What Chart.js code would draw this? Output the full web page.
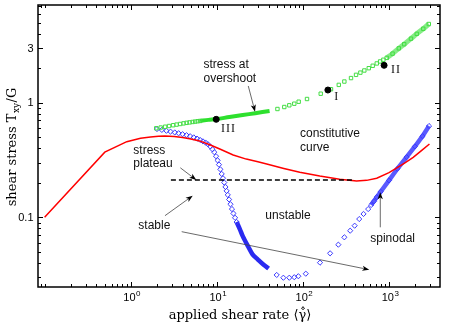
<!DOCTYPE html>
<html><head><meta charset="utf-8">
<script src="https://cdn.jsdelivr.net/npm/chart.js@4.4.1/dist/chart.umd.min.js"></script>
<style>html,body{margin:0;padding:0;background:#fff}#wrap{width:452px;height:327px;position:relative}</style>
</head><body><div id="wrap"><canvas id="c"></canvas></div>
<script>
// ---- axis ranges and ticks ----
const xMin = 0.0838, xMax = 3911;
const yMin = 0.02465, yMax = 7.12;
const xMajorTicks = [1, 10, 100, 1000];
const xTickExponents = ['0', '1', '2', '3'];
const yMajorTicks = [0.1, 1, 3];
const yTickLabels = ['0.1', '1', '3'];

// ---- constitutive curve (red) ----
const redX = [0.1, 0.5, 0.9, 1.3, 1.7, 2.1, 2.5, 3.2, 4, 5, 6.3, 8.3, 11, 15.5, 22, 30, 38, 60, 92, 157, 267, 420, 550, 720, 1000, 1220, 1500, 1910, 2400, 2950];
const redY = [0.1, 0.37, 0.457, 0.49, 0.503, 0.509, 0.511, 0.507, 0.497, 0.483, 0.464, 0.43, 0.392, 0.35, 0.322, 0.305, 0.292, 0.267, 0.247, 0.229, 0.215, 0.207, 0.21, 0.219, 0.245, 0.268, 0.296, 0.334, 0.384, 0.436];

// ---- stress at overshoot (green squares) ----
const greenSqX = [1.98, 2.23, 2.51, 2.79, 3.11, 3.41, 3.75, 4.11, 4.46, 4.83, 5.23, 5.6, 6.0, 6.4,
  50.6, 60.8, 69.5, 79.4, 89.3, 111.6, 161, 212, 261, 303, 362, 414, 465, 517, 582, 647, 721, 788, 860, 941,
  1100, 1300, 1500, 1800, 2100, 2500, 2900];
const greenSqY = [0.598, 0.607, 0.617, 0.626, 0.636, 0.644, 0.652, 0.66, 0.667, 0.673, 0.679, 0.684, 0.689, 0.693,
  0.881, 0.917, 0.949, 0.98, 1.02, 1.077, 1.198, 1.31, 1.43, 1.53, 1.64, 1.75, 1.83, 1.91, 2.0, 2.1, 2.2, 2.29, 2.37, 2.46,
  2.68, 2.98, 3.24, 3.62, 3.99, 4.42, 4.86];
const greenDenseLoX = [6.4, 8, 10, 14, 20, 28, 41];
const greenDenseLoY = [0.693, 0.708, 0.72, 0.75, 0.78, 0.81, 0.847];
const greenDenseHiX = [941, 1100, 1300, 1500, 1800, 2100, 2500, 2900];
const greenDenseHiY = [2.46, 2.68, 2.98, 3.24, 3.62, 3.99, 4.42, 4.86];

// ---- spinodal (blue diamonds) ----
const blueDiaX = [2.02, 2.3, 2.6, 2.9, 3.25, 3.6, 4.0, 4.45, 4.9, 5.4, 5.9, 6.4, 6.9, 7.4, 7.9, 8.4, 8.9, 9.35, 9.8, 10.2, 10.6, 11.0, 11.4, 11.8, 12.2, 12.6, 13.0, 13.4, 13.9, 14.4, 15.0, 15.6, 16.3, 17.0,
  49.6, 59.3, 69.5, 79.4, 88.5, 108, 158, 207, 258, 303, 354, 399, 451, 506, 573, 620, 670, 720,
  800, 1000, 1250, 1600, 2000, 2450, 2915];
const blueDiaY = [0.589, 0.579, 0.569, 0.559, 0.55, 0.541, 0.531, 0.521, 0.51, 0.498, 0.486, 0.473, 0.46, 0.449, 0.434, 0.415, 0.392, 0.37, 0.341, 0.314, 0.288, 0.262, 0.239, 0.219, 0.201, 0.184, 0.17, 0.157, 0.143, 0.13, 0.118, 0.108, 0.099, 0.091,
  0.0314, 0.0297, 0.0297, 0.03, 0.0306, 0.0322, 0.0402, 0.0485, 0.0577, 0.0669, 0.0764, 0.0845, 0.0966, 0.107, 0.118, 0.128, 0.138, 0.15,
  0.167, 0.21, 0.265, 0.335, 0.415, 0.51, 0.626];
const blueDenseLoX = [17, 18.5, 20, 23, 26, 30, 35, 40];
const blueDenseLoY = [0.091, 0.079, 0.0685, 0.056, 0.0475, 0.0428, 0.0385, 0.0357];
const blueDenseHiX = [620, 800, 1000, 1250, 1600, 2000, 2450, 2915];
const blueDenseHiY = [0.128, 0.167, 0.21, 0.265, 0.335, 0.415, 0.51, 0.626];

// ---- stress plateau (dashed) ----
const plateauX = [2.93, 392];
const plateauY = [0.212, 0.212];

// ---- marked states ----
const markX = [195, 877, 9.84];
const markY = [1.29, 2.12, 0.716];
const markLabels = ['I', 'II', 'III'];
const markLabelX = [231.6, 1055, 11.19];
const markLabelY = [1.056, 1.827, 0.558];

// ---- annotations (data coordinates) ----
const notes = [
  {t: 'stress at', x: 7.0, y: 2.0},
  {t: 'overshoot', x: 7.0, y: 1.52},
  {t: 'constitutive', x: 92.5, y: 0.497},
  {t: 'curve', x: 92.5, y: 0.381},
  {t: 'stress', x: 1.072, y: 0.3567},
  {t: 'plateau', x: 1.072, y: 0.2764},
  {t: 'stable', x: 1.225, y: 0.079},
  {t: 'unstable', x: 36.6, y: 0.0966},
  {t: 'spinodal', x: 606, y: 0.0609}
];
const arrows = [
  {x1: 23.2, y1: 1.399, x2: 27.8, y2: 0.835},
  {x1: 3.77, y1: 0.2704, x2: 5.78, y2: 0.2116},
  {x1: 2.50, y1: 0.1033, x2: 5.25, y2: 0.1543},
  {x1: 3.91, y1: 0.0749, x2: 590, y2: 0.0349},
  {x1: 792, y1: 0.0818, x2: 792, y2: 0.1653}
];

const pts = (xs, ys) => xs.map((v, i) => ({x: v, y: ys[i]}));

const minorTicks = (lo, hi) => {
  const out = [];
  for (let e = -3; e <= 4; e++) for (let m = 1; m <= 9; m++) {
    const v = m * Math.pow(10, e);
    if (v >= lo && v <= hi) out.push(v);
  }
  return out;
};

const deco = {
  id: 'deco',
  afterDatasetsDraw(chart) {
    const {ctx, chartArea: a, scales: {x, y}} = chart;
    const X = v => x.getPixelForValue(v), Y = v => y.getPixelForValue(v);
    ctx.save();
    // arrows
    arrows.forEach(r => {
      const x1 = X(r.x1), y1 = Y(r.y1), x2 = X(r.x2), y2 = Y(r.y2);
      const ang = Math.atan2(y2 - y1, x2 - x1), L = 7, W = 2.6;
      ctx.strokeStyle = '#444'; ctx.lineWidth = 0.8;
      ctx.beginPath(); ctx.moveTo(x1, y1);
      ctx.lineTo(x2 - Math.cos(ang) * L * 0.8, y2 - Math.sin(ang) * L * 0.8); ctx.stroke();
      ctx.fillStyle = '#000';
      ctx.beginPath(); ctx.moveTo(x2, y2);
      ctx.lineTo(x2 - Math.cos(ang) * L - Math.sin(ang) * W, y2 - Math.sin(ang) * L + Math.cos(ang) * W);
      ctx.lineTo(x2 - Math.cos(ang) * L * 0.75, y2 - Math.sin(ang) * L * 0.75);
      ctx.lineTo(x2 - Math.cos(ang) * L + Math.sin(ang) * W, y2 - Math.sin(ang) * L - Math.cos(ang) * W);
      ctx.closePath(); ctx.fill();
    });
    // annotation text
    ctx.fillStyle = '#111';
    ctx.font = '12px "Liberation Sans", Arial, sans-serif';
    ctx.textAlign = 'left'; ctx.textBaseline = 'alphabetic';
    notes.forEach(n => ctx.fillText(n.t, X(n.x), Y(n.y)));
    // roman labels
    ctx.font = '12px "Liberation Serif", "Times New Roman", serif';
    ctx.letterSpacing = '1px';
    markLabels.forEach((t, i) => ctx.fillText(t, X(markLabelX[i]), Y(markLabelY[i])));
    ctx.letterSpacing = '0px';
    // box
    ctx.strokeStyle = '#000'; ctx.lineWidth = 1.5;
    ctx.strokeRect(a.left, a.top, a.right - a.left, a.bottom - a.top);
    // ticks
    ctx.lineWidth = 1;
    const xt = minorTicks(xMin, xMax), yt = minorTicks(yMin, yMax);
    ctx.beginPath();
    xt.forEach(v => {
      const L = xMajorTicks.includes(v) ? 5 : 3, px = Math.round(X(v)) + 0.5;
      ctx.moveTo(px, a.bottom); ctx.lineTo(px, a.bottom - L);
      ctx.moveTo(px, a.top); ctx.lineTo(px, a.top + L);
    });
    yt.forEach(v => {
      const L = yMajorTicks.some(t => Math.abs(t - v) < 1e-9) ? 5 : 3, py = Math.round(Y(v)) + 0.5;
      ctx.moveTo(a.left, py); ctx.lineTo(a.left + L, py);
      ctx.moveTo(a.right, py); ctx.lineTo(a.right - L, py);
    });
    ctx.stroke();
    // tick labels
    ctx.fillStyle = '#000';
    ctx.textAlign = 'right'; ctx.textBaseline = 'middle';
    ctx.font = '11px "Liberation Sans", Arial, sans-serif';
    yMajorTicks.forEach((v, i) => ctx.fillText(yTickLabels[i], a.left - 4.5, Y(v) + 0.5));
    ctx.textBaseline = 'alphabetic'; ctx.textAlign = 'left';
    xMajorTicks.forEach((v, i) => {
      ctx.font = '11px "Liberation Sans", Arial, sans-serif';
      const w1 = ctx.measureText('10').width;
      ctx.font = '8px "Liberation Sans", Arial, sans-serif';
      const w2 = ctx.measureText(xTickExponents[i]).width;
      const x0 = X(v) - (w1 + w2) / 2 + 1;
      ctx.font = '11px "Liberation Sans", Arial, sans-serif';
      ctx.fillText('10', x0, a.bottom + 14);
      ctx.font = '8px "Liberation Sans", Arial, sans-serif';
      ctx.fillText(xTickExponents[i], x0 + w1 + 0.5, a.bottom + 8.5);
    });
    // x title
    ctx.font = '13px "DejaVu Serif", serif';
    ctx.textAlign = 'center';
    ctx.fillText('applied shear rate \u27E8\u03B3\u0307\u0302\u27E9', (a.left + a.right) / 2 + 1, a.bottom + 32);
    // y title
    ctx.save();
    ctx.translate(15.5, 147); ctx.rotate(-Math.PI / 2);
    ctx.textAlign = 'left';
    const f1 = '13px "DejaVu Serif", serif', f2 = '9px "DejaVu Serif", serif';
    ctx.font = f1; const a1 = ctx.measureText('shear stress T').width, a3 = ctx.measureText('/G').width;
    ctx.font = f2; const a2 = ctx.measureText('xy').width;
    const s = -(a1 + a2 + a3 + 1) / 2;
    ctx.font = f1; ctx.fillText('shear stress T', s, 0);
    ctx.font = f2; ctx.fillText('xy', s + a1 + 0.5, 3);
    ctx.font = f1; ctx.fillText('/G', s + a1 + a2 + 1, 0);
    ctx.restore();
    ctx.restore();
  }
};

new Chart(document.getElementById('c'), {
  type: 'line',
  data: {
    datasets: [
      {data: pts(markX, markY), showLine: false, pointRadius: 3, pointBackgroundColor: '#000', pointBorderColor: '#000', order: 0},
      {data: pts(plateauX, plateauY), borderColor: '#000', borderWidth: 1.5, borderDash: [5, 3], pointRadius: 0, order: 1},
      {data: pts(redX, redY), borderColor: '#ff0000', borderWidth: 1.5, pointRadius: 0, tension: 0, order: 2},
      {data: pts(greenDenseLoX, greenDenseLoY), borderColor: '#2ee02e', borderWidth: 4, pointRadius: 0, tension: 0.3, order: 4},
      {data: pts(greenDenseHiX, greenDenseHiY), borderColor: '#86ec86', borderWidth: 5, pointRadius: 0, tension: 0.3, order: 5},
      {data: pts(greenSqX, greenSqY), showLine: false, pointStyle: 'rect', pointRadius: 2.4, pointBorderWidth: 1, pointBorderColor: '#44dd44', pointBackgroundColor: 'rgba(0,0,0,0)', order: 3},
      {data: pts(blueDenseLoX, blueDenseLoY), borderColor: '#2a2af0', borderWidth: 4.5, pointRadius: 0, tension: 0.3, order: 7},
      {data: pts(blueDenseHiX, blueDenseHiY), borderColor: '#5a5aff', borderWidth: 4.5, pointRadius: 0, tension: 0, order: 8},
      {data: pts(blueDiaX, blueDiaY), showLine: false, pointStyle: 'rectRot', pointRadius: 2.6, pointBorderWidth: 1, pointBorderColor: '#3a3aff', pointBackgroundColor: 'rgba(0,0,0,0)', order: 6}
    ]
  },
  options: {
    responsive: true, maintainAspectRatio: false, animation: false,
    layout: {padding: {left: 38, right: 12, top: 5, bottom: 40}},
    plugins: {legend: {display: false}, tooltip: {enabled: false}},
    scales: {
      x: {type: 'logarithmic', min: xMin, max: xMax, display: false},
      y: {type: 'logarithmic', min: yMin, max: yMax, display: false}
    }
  },
  plugins: [deco]
});
</script></body></html>
